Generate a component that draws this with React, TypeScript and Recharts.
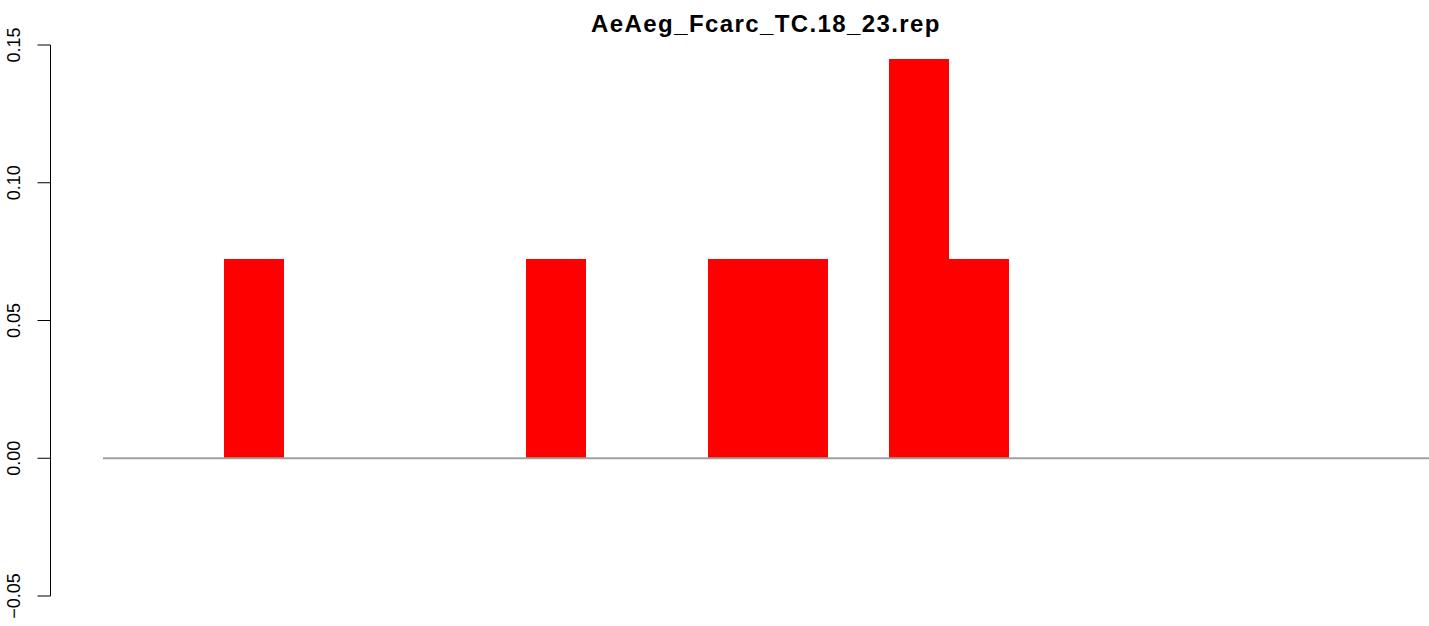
import React from 'react';
import { BarChart, Bar, XAxis, YAxis, ReferenceLine } from 'recharts';

const title = 'AeAeg_Fcarc_TC.18_23.rep';

// 22 bins, no x labels in the original
const categories = [
    '1', '2', '3', '4', '5', '6', '7', '8', '9', '10', '11',
    '12', '13', '14', '15', '16', '17', '18', '19', '20', '21', '22',
];
const values = [
    0, 0, 0.0725, 0, 0, 0, 0, 0.0725, 0, 0, 0.0725,
    0.0725, 0, 0.145, 0.0725, 0, 0, 0, 0, 0, 0, 0,
];
const yTicks = [-0.05, 0, 0.05, 0.1, 0.15];

const data = categories.map((name, i) => ({ name, value: values[i] }));

const formatTick = (v: number) => (v < 0 ? '\u2212' : '') + Math.abs(v).toFixed(2);

const RotatedTick = (props: any) => {
    const { x, y, payload } = props;
    const tx = x - 31;
    return (
        <g>
            <line x1={x - 13} y1={y} x2={x} y2={y} stroke="#000" strokeWidth={1} />
            <text
                x={tx}
                y={y}
                transform={`rotate(-90, ${tx}, ${y})`}
                textAnchor="middle"
                fontSize={18}
                fontFamily="Liberation Sans, Arial, sans-serif"
                fill="#000"
            >
                {formatTick(payload.value)}
            </text>
        </g>
    );
};

export default function App() {
    return (
        <div style={{ position: 'absolute', left: 0, top: 0, width: 1429, height: 626, background: '#fff', overflow: 'hidden' }}>
            <div
                style={{
                    position: 'absolute',
                    left: 103,
                    top: 12,
                    width: 1326,
                    textAlign: 'center',
                    fontFamily: 'Liberation Sans, Arial, sans-serif',
                    fontWeight: 'bold',
                    fontSize: 24,
                    letterSpacing: 1.4,
                    lineHeight: '24px',
                    color: '#000',
                }}
            >
                {title}
            </div>
            <BarChart
                width={1433}
                height={626}
                data={data}
                margin={{ top: 45, right: 0, bottom: 30, left: 0 }}
                barCategoryGap={0}
                barGap={0}
            >
                <XAxis dataKey="name" hide />
                <YAxis
                    yAxisId="labels"
                    width={50.5}
                    domain={[-0.05, 0.15]}
                    ticks={yTicks}
                    tick={(p: any) => <RotatedTick {...p} />}
                    tickLine={false}
                    tickSize={0}
                    tickMargin={0}
                    axisLine={{ stroke: '#000', strokeWidth: 1 }}
                    interval={0}
                />
                <YAxis
                    yAxisId="gap"
                    width={52.5}
                    domain={[-0.05, 0.15]}
                    tick={false}
                    tickLine={false}
                    axisLine={false}
                />
                <Bar
                    yAxisId="labels"
                    dataKey="value"
                    fill="#ff0000"
                    shapeRendering="crispEdges"
                    isAnimationActive={false}
                />
                <ReferenceLine yAxisId="labels" y={0} stroke="#a0a0a0" strokeWidth={2} />
            </BarChart>
        </div>
    );
}
